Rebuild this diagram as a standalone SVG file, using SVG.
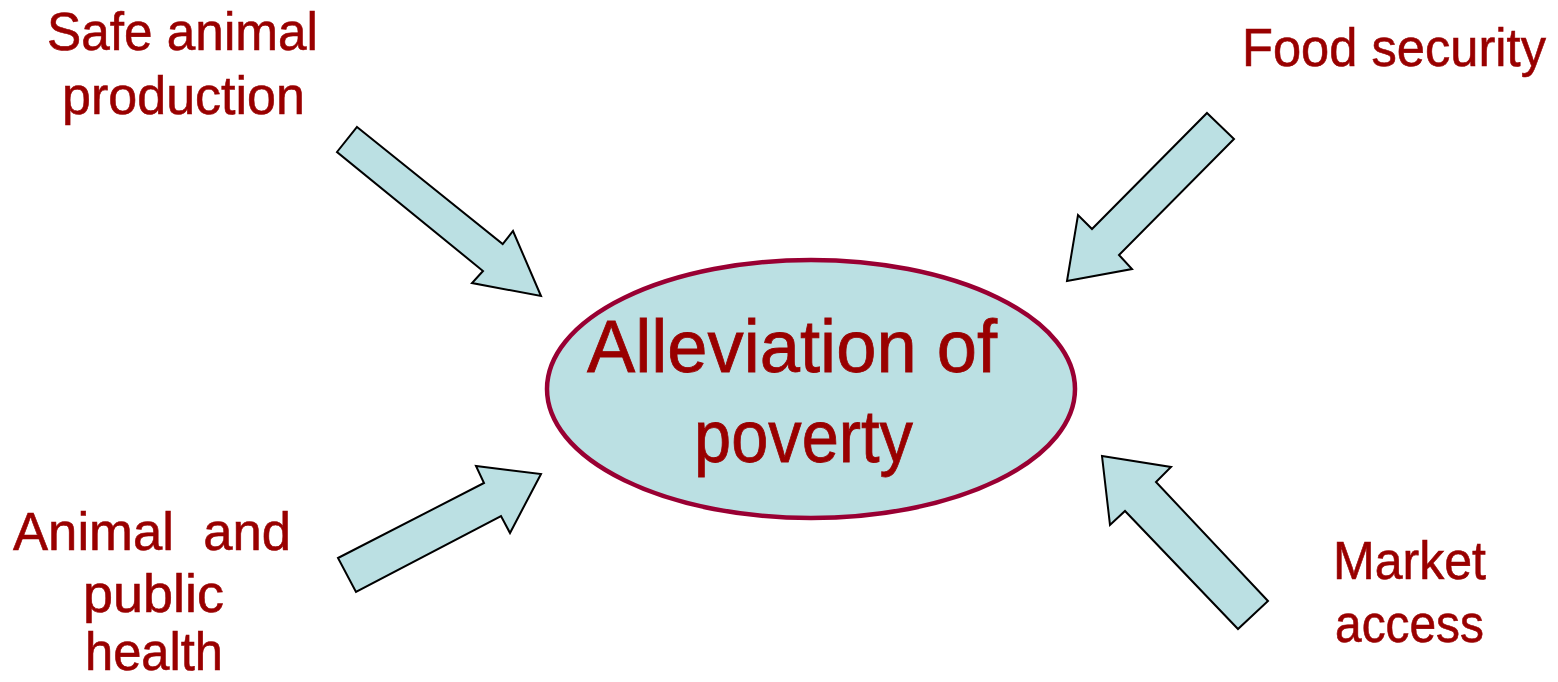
<svg xmlns="http://www.w3.org/2000/svg" width="1558" height="682" viewBox="0 0 1558 682">
<style>
.lbl{font-family:"Liberation Sans",Arial,sans-serif;font-size:53px;fill:#990000;stroke:#990000;stroke-width:0.6}
.big{font-family:"Liberation Sans",Arial,sans-serif;font-size:74px;fill:#990000;stroke:#990000;stroke-width:0.8}
.arr{fill:#BBE0E3;stroke:#000;stroke-width:2;stroke-linejoin:miter}
</style>
<rect width="1558" height="682" fill="#fff"/>
<g id="connectors">
<polygon class="arr" points="357,127 502.7,244 513,231 541,296 472,283 483,271 337,152"/>
<polygon class="arr" points="1207,113 1234,139 1119,255 1132,269 1067,281 1078,215 1092,229"/>
<polygon class="arr" points="338,558 484,483 476,466 541,474 510,533 501,516 356,592"/>
<polygon class="arr" points="1102,456 1171,467 1156,482 1268,601 1238,629 1125,511 1110,525"/>
</g>
<g id="center">
<ellipse cx="811" cy="389" rx="264" ry="129" fill="#BBE0E3" stroke="#990033" stroke-width="4.5"/>
<text class="big" x="587" y="372" textLength="410" lengthAdjust="spacingAndGlyphs">Alleviation of</text>
<text class="big" x="694" y="462" textLength="219" lengthAdjust="spacingAndGlyphs">poverty</text>
</g>
<g id="safe">
<text class="lbl" x="47" y="50" textLength="271" lengthAdjust="spacingAndGlyphs">Safe animal</text>
<text class="lbl" x="62" y="114" textLength="243" lengthAdjust="spacingAndGlyphs">production</text>
</g>
<g id="food">
<text class="lbl" x="1242" y="66" textLength="304" lengthAdjust="spacingAndGlyphs">Food security</text>
</g>
<g id="health">
<text class="lbl" x="13" y="550" textLength="278" lengthAdjust="spacingAndGlyphs" xml:space="preserve">Animal  and</text>
<text class="lbl" x="83" y="612" textLength="141" lengthAdjust="spacingAndGlyphs">public</text>
<text class="lbl" x="85" y="670" textLength="138" lengthAdjust="spacingAndGlyphs">health</text>
</g>
<g id="market">
<text class="lbl" x="1333" y="579" textLength="153" lengthAdjust="spacingAndGlyphs">Market</text>
<text class="lbl" x="1335" y="642" textLength="149" lengthAdjust="spacingAndGlyphs">access</text>
</g>
</svg>
